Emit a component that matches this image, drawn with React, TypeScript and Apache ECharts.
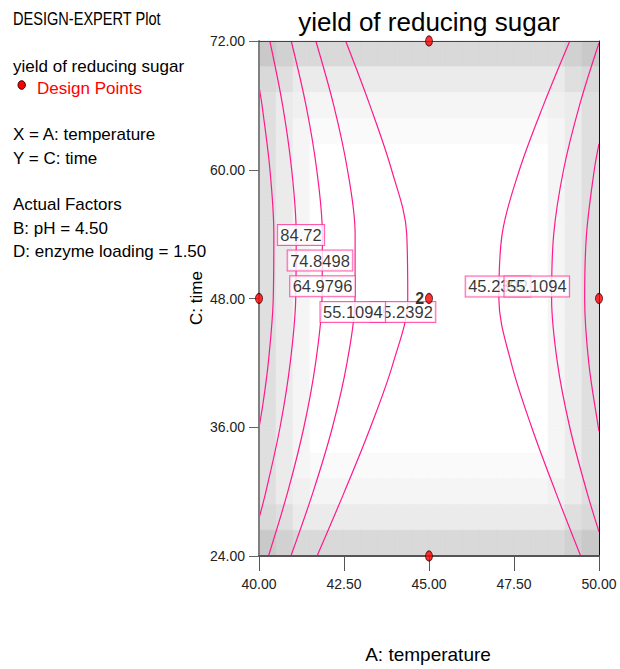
import React, { useEffect, useRef } from "react";
import * as echarts from "echarts";

// Axis ranges (A: temperature, C: time)
const TEMP_MIN = 40;
const TEMP_MAX = 50;
const TEMP_STEP = 2.5;
const TIME_MIN = 24;
const TIME_MAX = 72;
const TIME_STEP = 12;

// Contour levels of the predicted yield
const CONTOUR_LEVELS = [45.2392, 55.1094, 64.9796, 74.8498, 84.72];

// Contour branches as [temperature, time] pairs
const CONTOUR_84_72 = [
  [40.0, 35.93], [40.126, 38.4], [40.273, 42], [40.419, 48], [40.436, 54],
  [40.322, 60], [40.09, 66], [40.03, 67.2], [40.0, 67.77],
];
const CONTOUR_74_85 = [
  [40.0, 27.5], [40.203, 30], [40.619, 36], [40.918, 42], [41.08, 48],
  [41.094, 54], [40.961, 60], [40.695, 66], [40.318, 72],
];
const CONTOUR_64_98_LEFT = [
  [40.279, 24], [40.847, 30], [41.32, 36], [41.665, 42], [41.853, 48],
  [41.863, 54], [41.698, 60], [41.382, 66], [40.947, 72],
];
const CONTOUR_64_98_RIGHT = [
  [50.0, 35.65], [49.979, 36], [49.699, 42], [49.578, 48], [49.633, 54],
  [49.862, 60], [50.0, 62.42],
];
const CONTOUR_55_11_LEFT = [
  [40.938, 24], [41.594, 30], [42.16, 36], [42.588, 42], [42.824, 48],
  [42.827, 54], [42.602, 60], [42.198, 66], [41.671, 72],
];
const CONTOUR_55_11_RIGHT = [
  [50.0, 26.26], [49.641, 30], [49.14, 36], [48.777, 42], [48.606, 48],
  [48.668, 54], [48.958, 60], [49.427, 66], [50.0, 71.81],
];
const CONTOUR_45_24_LEFT = [
  [41.708, 24], [42.514, 30], [43.279, 36], [43.947, 42], [44.375, 48],
  [44.345, 54], [43.899, 60], [43.263, 66], [42.549, 72],
];
const CONTOUR_45_24_RIGHT = [
  [49.461, 24], [48.72, 30], [48.02, 36], [47.418, 42], [47.055, 48],
  [47.151, 54], [47.661, 60], [48.363, 66], [49.141, 72],
];

// Design points
const DESIGN_TEMPERATURE = [45, 40, 45, 50, 45];
const DESIGN_TIME = [72, 48, 48, 48, 24];
const DESIGN_RUNS = [1, 1, 2, 1, 1];

// Background shading grid (20 x 20 cells, top row first), 0 = white .. 9 = darkest
const SHADE_GRID = [
  "98777777777777777789",
  "76444444444444444467",
  "64322222222222222346",
  "64211111111111111246",
  "64200000000000000246",
  "64200000000000000246",
  "64200000000000000246",
  "64200000000000000246",
  "64200000000000000246",
  "64200000000000000246",
  "64200000000000000246",
  "64200000000000000246",
  "64200000000000000246",
  "64200000000000000246",
  "64200000000000000246",
  "64200000000000000246",
  "64211111111111111246",
  "64322222222222222346",
  "76444444444444444467",
  "98777777777777777789",
];
const SHADE_GRAYS = [
  "#ffffff", "#fafafa", "#f5f5f5", "#f0f0f0", "#ebebeb",
  "#e5e5e5", "#dfdfdf", "#d9d9d9", "#d1d1d1", "#c9c9c9",
];

// Where each contour value is written (level index, temperature, time)
const LABEL_ANCHORS: [number, number, number][] = [
  [4, 41.235, 53.92],
  [3, 41.794, 51.54],
  [2, 41.868, 49.14],
  [0, 44.235, 46.74],
  [1, 42.759, 46.74],
  [0, 47.03, 49.12],
  [1, 48.17, 49.12],
];

const FONT = '"Liberation Sans", Arial, Helvetica, sans-serif';
const LINE_COLOR = "#ff1a8c";

export default function App() {
  const ref = useRef<HTMLDivElement>(null);

  useEffect(() => {
    if (!ref.current) return;
    const chart = echarts.init(ref.current, undefined, { renderer: "svg" });

    const rows = SHADE_GRID.length;
    const cols = SHADE_GRID[0].length;
    const cellW = (TEMP_MAX - TEMP_MIN) / cols;
    const cellH = (TIME_MAX - TIME_MIN) / rows;
    const shadeData: number[][] = [];
    for (let r = 0; r < rows; r++) {
      for (let c = 0; c < cols; c++) {
        shadeData.push([
          TEMP_MIN + (c + 0.5) * cellW,
          TIME_MAX - (r + 0.5) * cellH,
          Number(SHADE_GRID[r][c]),
        ]);
      }
    }

    const branches = [
      CONTOUR_84_72,
      CONTOUR_74_85,
      CONTOUR_64_98_LEFT,
      CONTOUR_64_98_RIGHT,
      CONTOUR_55_11_LEFT,
      CONTOUR_55_11_RIGHT,
      CONTOUR_45_24_LEFT,
      CONTOUR_45_24_RIGHT,
    ];

    const lineSeries = branches.map((pts) => ({
      type: "line",
      data: pts,
      showSymbol: false,
      symbol: "none",
      smooth: 0.35,
      clip: true,
      silent: true,
      z: 3,
      lineStyle: { color: LINE_COLOR, width: 1.2 },
    }));

    const fmt2 = (v: number) => v.toFixed(2);

    const leftText = (text: string, y: number, color = "#000", size = 17, scaleX = 1) => ({
      type: "text",
      x: 13,
      y,
      scaleX,
      style: {
        text,
        fill: color,
        fontSize: size,
        fontFamily: FONT,
        align: "left",
        verticalAlign: "middle",
      },
    });

    chart.setOption({
      animation: false,
      backgroundColor: "#ffffff",
      textStyle: { fontFamily: FONT },
      grid: { left: 259, right: 21, top: 41, bottom: 113, containLabel: false },
      xAxis: [
        {
          type: "value",
          min: TEMP_MIN,
          max: TEMP_MAX,
          interval: TEMP_STEP,
          position: "bottom",
          z: 10,
          axisLine: { show: true, onZero: false, lineStyle: { color: "#555", width: 2 } },
          axisTick: { show: true, inside: false, length: 15, lineStyle: { color: "#555", width: 1 } },
          axisLabel: { formatter: fmt2, margin: 21, fontSize: 14, color: "#222", fontFamily: FONT },
          splitLine: { show: false },
        },
        {
          type: "value",
          min: TEMP_MIN,
          max: TEMP_MAX,
          position: "top",
          z: 10,
          axisLine: { show: true, onZero: false, lineStyle: { color: "#444", width: 1 } },
          axisTick: { show: false },
          axisLabel: { show: false },
          splitLine: { show: false },
        },
      ],
      yAxis: [
        {
          type: "value",
          min: TIME_MIN,
          max: TIME_MAX,
          interval: TIME_STEP,
          position: "left",
          z: 10,
          axisLine: { show: true, onZero: false, lineStyle: { color: "#808080", width: 2 } },
          axisTick: { show: true, inside: false, length: 10, lineStyle: { color: "#666", width: 1 } },
          axisLabel: { formatter: fmt2, margin: 14, fontSize: 14, color: "#222", fontFamily: FONT },
          splitLine: { show: false },
        },
        {
          type: "value",
          min: TIME_MIN,
          max: TIME_MAX,
          position: "right",
          z: 10,
          axisLine: { show: true, onZero: false, lineStyle: { color: "#111", width: 1 } },
          axisTick: { show: false },
          axisLabel: { show: false },
          splitLine: { show: false },
        },
      ],
      series: [
        {
          type: "custom",
          z: 1,
          silent: true,
          data: shadeData,
          encode: { x: 0, y: 1 },
          renderItem: (_params: any, api: any) => {
            const cx = api.value(0);
            const cy = api.value(1);
            const p0 = api.coord([cx - cellW / 2, cy + cellH / 2]);
            const p1 = api.coord([cx + cellW / 2, cy - cellH / 2]);
            const fill = SHADE_GRAYS[api.value(2)];
            return {
              type: "rect",
              shape: { x: p0[0], y: p0[1], width: p1[0] - p0[0], height: p1[1] - p0[1] },
              style: { fill, stroke: fill, lineWidth: 0.6 },
            };
          },
        },
        ...lineSeries,
        {
          type: "scatter",
          z: 5,
          silent: true,
          symbolSize: 0,
          data: LABEL_ANCHORS.map(([li, t, h]) => ({ value: [t, h, CONTOUR_LEVELS[li]] })),
          label: {
            show: true,
            position: "inside",
            formatter: (p: any) => String(p.value[2]),
            fontSize: 16.5,
            lineHeight: 17,
            fontFamily: FONT,
            color: "#000",
            backgroundColor: "#ffffff",
            borderColor: "#ff3399",
            borderWidth: 1,
            padding: [2, 2.5, 1, 2.5],
          },
        },
        {
          type: "scatter",
          z: 20,
          silent: true,
          clip: false,
          symbol: "circle",
          symbolSize: [7, 10],
          itemStyle: { color: "#ff0000", borderColor: "#3a0000", borderWidth: 1 },
          label: {
            show: true,
            position: "left",
            distance: 1,
            formatter: (p: any) => (p.value[2] > 1 ? String(p.value[2]) : ""),
            fontSize: 16,
            fontWeight: "bold",
            color: "#000",
            fontFamily: FONT,
          },
          data: DESIGN_TEMPERATURE.map((t, i) => [t, DESIGN_TIME[i], DESIGN_RUNS[i]]),
        },
      ],
      graphic: [
        {
          type: "text",
          x: 429,
          y: 22,
          style: {
            text: "yield of reducing sugar",
            fill: "#000",
            fontSize: 26,
            fontFamily: FONT,
            align: "center",
            verticalAlign: "middle",
          },
        },
        {
          type: "text",
          x: 428,
          y: 654,
          style: {
            text: "A: temperature",
            fill: "#000",
            fontSize: 19,
            fontFamily: FONT,
            align: "center",
            verticalAlign: "middle",
          },
        },
        {
          type: "text",
          x: 196,
          y: 298,
          rotation: Math.PI / 2,
          style: {
            text: "C: time",
            fill: "#000",
            fontSize: 17,
            fontFamily: FONT,
            align: "center",
            verticalAlign: "middle",
          },
        },
        leftText("DESIGN-EXPERT Plot", 18.5, "#000", 18, 0.81),
        leftText("yield of reducing sugar", 66),
        {
          type: "ellipse",
          shape: { cx: 21.7, cy: 85, rx: 3.7, ry: 4.3 },
          style: { fill: "#ff0000", stroke: "#3a0000", lineWidth: 1 },
        },
        { ...leftText("Design Points", 88.5, "#ff0000"), x: 37 },
        leftText("X = A: temperature", 134.5),
        leftText("Y = C: time", 158),
        leftText("Actual Factors", 204.5),
        leftText("B: pH = 4.50", 228),
        leftText("D: enzyme loading = 1.50", 251.5),
      ],
    });

    return () => {
      chart.dispose();
    };
  }, []);

  return (
    <div
      ref={ref}
      style={{ position: "absolute", left: 0, top: 0, width: 620, height: 669, background: "#fff" }}
    />
  );
}
